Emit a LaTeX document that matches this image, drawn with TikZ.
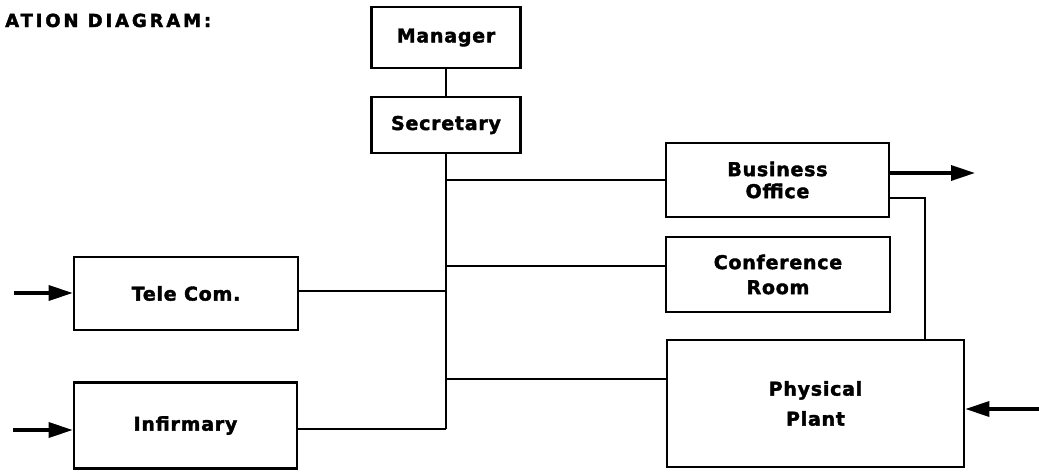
\documentclass[tikz,border=0pt]{standalone}
\usepackage{fontspec}
\usetikzlibrary{arrows.meta}
\newfontfamily\boxfont[LetterSpace=4,FakeBold=2]{DejaVu Sans}
\newfontfamily\headfont[LetterSpace=16,FakeBold=2]{DejaVu Sans}

\begin{document}
\begin{tikzpicture}[x=1pt,y=-1pt]
\tikzstyle{box} = [draw, line width=2.6pt, inner sep=0, align=center,
  font=\boxfont\bfseries\fontsize{19}{22}\selectfont]
\tikzstyle{wire} = [line width=1.3pt]
\tikzstyle{feed} = [line width=3.4pt, -{Triangle[length=24pt,width=15pt]}]

\useasboundingbox (0,0) rectangle (1039,472);

\node[anchor=base west, inner sep=0, font=\headfont\bfseries\fontsize{18}{20}\selectfont] (title) at (5,27) {ATION DIAGRAM:};

\node[box, minimum width=149, minimum height=61] (manager) at (446,37.5) {Manager};
\node[box, minimum width=149, minimum height=56] (secretary) at (446,125) {Secretary};

\node[box, minimum width=223, minimum height=74] (business) at (777.5,180) {Business\\Office};
\node[box, minimum width=224, minimum height=75] (conference) at (778,274.5) {Conference\\[3pt]Room};
\node[box, minimum width=297, minimum height=127] (plant) at (815.5,403.5) {Physical\\[8pt]Plant};

\node[box, minimum width=224, minimum height=73] (telecom) at (186,293.5) {Tele Com.};
\node[box, minimum width=223, minimum height=86] (infirmary) at (185.5,425.5) {Infirmary};

% trunk and branches
\coordinate (bend) at (446,429);
\coordinate (j1) at (446,180);
\coordinate (j2) at (446,266);
\coordinate (j3) at (446,291);
\coordinate (j4) at (446,379);

\draw[wire] (manager) -- (secretary);
\draw[wire] (secretary.south) -- (bend);
\draw[wire] (j1) -- (j1 -| business.west);
\draw[wire] (j2) -- (j2 -| conference.west);
\draw[wire] (j4) -- (j4 -| plant.west);
\draw[wire] (j3) -- (j3 -| telecom.east);
\draw[wire] (bend) -- (bend -| infirmary.east);

% business office to plant
\coordinate (bo) at (925,198);
\draw[wire] (bo -| business.east) -- (bo) -- (bo |- plant.north);

% flows in and out
\coordinate (bout) at (975,173);
\coordinate (pin) at (1039,409);
\coordinate (tin) at (14,293);
\coordinate (iin) at (13,430);
\draw[feed] (bout -| business.east) -- (bout);
\draw[feed] (pin) -- (pin -| plant.east);
\draw[feed] (tin) -- (tin -| telecom.west);
\draw[feed] (iin) -- (iin -| infirmary.west);

\end{tikzpicture}
\end{document}
